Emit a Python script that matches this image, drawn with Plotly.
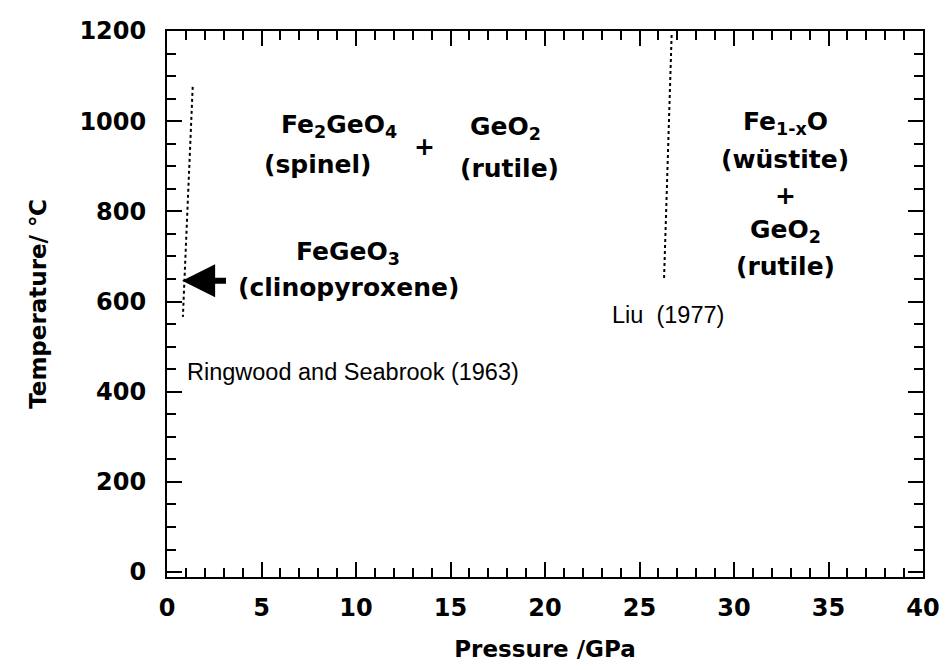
import plotly.graph_objects as go

# Phase-boundary lines (Pressure GPa, Temperature C)
ringwood_P = [1.36, 0.84]
ringwood_T = [1076, 566]
liu_P = [26.7, 26.3]
liu_T = [1191, 652]

# Region labels
label_text = ["Fe<sub>2</sub>GeO<sub>4</sub>", "(spinel)", "+", "GeO<sub>2</sub>", "(rutile)",
              "FeGeO<sub>3</sub>", "(clinopyroxene)",
              "Fe<sub>1-x</sub>O", "(wüstite)", "+", "GeO<sub>2</sub>", "(rutile)"]
label_P = [9.1, 8.0, 13.6, 17.9, 18.1, 9.6, 9.6, 32.7, 32.7, 32.7, 32.7, 32.7]
label_T = [990, 903, 943, 985, 896, 708, 630, 997, 914, 836, 757, 677]

ref_text = ["Ringwood and Seabrook (1963)", "Liu  (1977)"]
ref_P = [0.94, 26.5]
ref_T = [444, 570]

arrow_tip = (0.8, 646)
arrow_tail = (3.2, 646)

BOLD = "DejaVu Sans, Verdana, sans-serif"
REG = "Liberation Sans, Arial, Helvetica, sans-serif"

fig = go.Figure()
fig.add_trace(go.Scatter(x=ringwood_P, y=ringwood_T, mode="lines",
                         line=dict(color="black", width=2, dash="dot"), showlegend=False))
fig.add_trace(go.Scatter(x=liu_P, y=liu_T, mode="lines",
                         line=dict(color="black", width=2, dash="dot"), showlegend=False))

for t, p, tt in zip(label_text, label_P, label_T):
    fig.add_annotation(x=p, y=tt, text="<b>" + t + "</b>", showarrow=False,
                       font=dict(family=BOLD, size=25, color="black"),
                       xanchor="center", yanchor="middle")

fig.add_annotation(x=ref_P[0], y=ref_T[0], text=ref_text[0], showarrow=False,
                   font=dict(family=REG, size=23.5, color="black"),
                   xanchor="left", yanchor="middle")
fig.add_annotation(x=ref_P[1], y=ref_T[1], text=ref_text[1], showarrow=False,
                   font=dict(family=REG, size=23.5, color="black"),
                   xanchor="center", yanchor="middle")

fig.add_annotation(x=arrow_tip[0], y=arrow_tip[1], ax=arrow_tail[0], ay=arrow_tail[1],
                   axref="x", ayref="y", xref="x", yref="y", text="",
                   showarrow=True, arrowhead=2, arrowsize=1.1, arrowwidth=6,
                   arrowcolor="black", standoff=0)

axis_common = dict(showline=True, linecolor="black", linewidth=2, mirror="allticks",
                   ticks="inside", tickcolor="black", tickwidth=2, ticklen=15,
                   showgrid=False, zeroline=False,
                   tickfont=dict(family=BOLD, size=24, color="black", weight="bold"))

fig.update_xaxes(range=[0, 40], dtick=5, tick0=0, ticklabelstandoff=8,
                 minor=dict(dtick=1, ticks="inside", ticklen=9, tickwidth=2, tickcolor="black", showgrid=False),
                 title=dict(text="<b>Pressure /GPa</b>", font=dict(family=BOLD, size=23, color="black"), standoff=20),
                 **axis_common)
fig.update_yaxes(range=[-11, 1200], dtick=200, tick0=0, ticklabelstandoff=14,
                 minor=dict(dtick=50, ticks="inside", ticklen=9, tickwidth=2, tickcolor="black", showgrid=False),
                 title=dict(text="<b>Temperature/ ℃</b>", font=dict(family=BOLD, size=23, color="black"), standoff=26),
                 **axis_common)

fig.update_layout(width=952, height=670, plot_bgcolor="white", paper_bgcolor="white",
                  margin=dict(l=167, r=19, t=31, b=93), showlegend=False)

fig.write_html("out.html", config={"displayModeBar": False},
               post_script="document.body.style.margin='0';document.body.style.overflow='hidden';")
